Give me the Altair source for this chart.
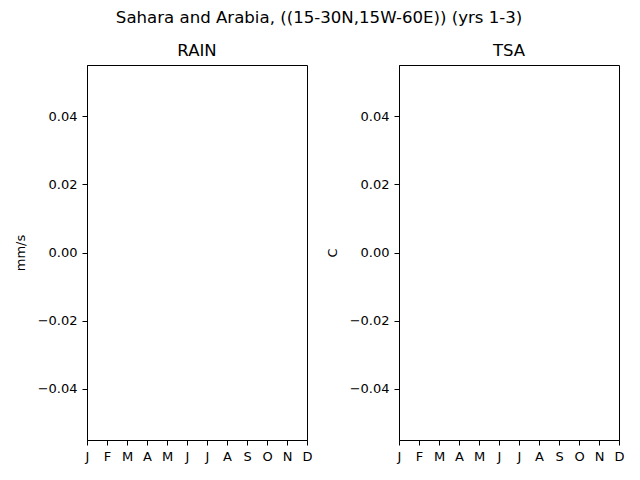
import altair as alt
import pandas as pd

months = list(range(1, 13))
month_labels = ["J", "F", "M", "A", "M", "J", "J", "A", "S", "O", "N", "D"]
rain_values = [None] * 12
tsa_values = [None] * 12
y_ticks = [-0.04, -0.02, 0.0, 0.02, 0.04]

label_expr = "[" + ",".join(f"'{m}'" for m in month_labels) + "][datum.value - 1]"
FONT = "DejaVu Sans"


def panel(values, title, ytitle):
    df = pd.DataFrame({"month": months, "value": values})
    return alt.Chart(df, title=alt.TitleParams(title, fontSize=16.5, font=FONT, fontWeight="normal",
                                                 color="black", offset=6)).mark_line(color="#1f77b4").encode(
        x=alt.X("month:Q", scale=alt.Scale(domain=[1, 12], nice=False, zero=False),
                axis=alt.Axis(values=months, labelExpr=label_expr, title=None, grid=False,
                              tickSize=5, labelPadding=5, labelFontSize=13, labelFont=FONT,
                              labelColor="black", tickColor="black", domainColor="black",
                              labelFlush=False, labelOverlap=False)),
        y=alt.Y("value:Q", scale=alt.Scale(domain=[-0.055, 0.055], nice=False, zero=False),
                axis=alt.Axis(values=y_ticks, format=".2f", title=ytitle, grid=False,
                              tickSize=5, labelPadding=5, labelFontSize=13, labelFont=FONT,
                              labelColor="black", tickColor="black", domainColor="black",
                              titleFont=FONT, titleFontSize=13, titleFontWeight="normal",
                              titleColor="black", titlePadding=10, labelFlush=False)),
    ).properties(width=220, height=375)


left = panel(rain_values, "RAIN", "mm/s")
right = panel(tsa_values, "TSA", "C")

chart = alt.hconcat(left, right, spacing=92, bounds="flush").properties(
    title=alt.TitleParams("Sahara and Arabia, ((15-30N,15W-60E)) (yrs 1-3)", fontSize=16.6, font=FONT,
                          fontWeight="normal", color="black", anchor="middle", offset=15),
    padding={"left": 5, "top": 2, "right": 5, "bottom": 5},
).configure_view(stroke="black", strokeWidth=1).configure_axis(domainWidth=1, tickWidth=1)

chart.save("out.html", embed_options={"renderer": "svg", "actions": False})
